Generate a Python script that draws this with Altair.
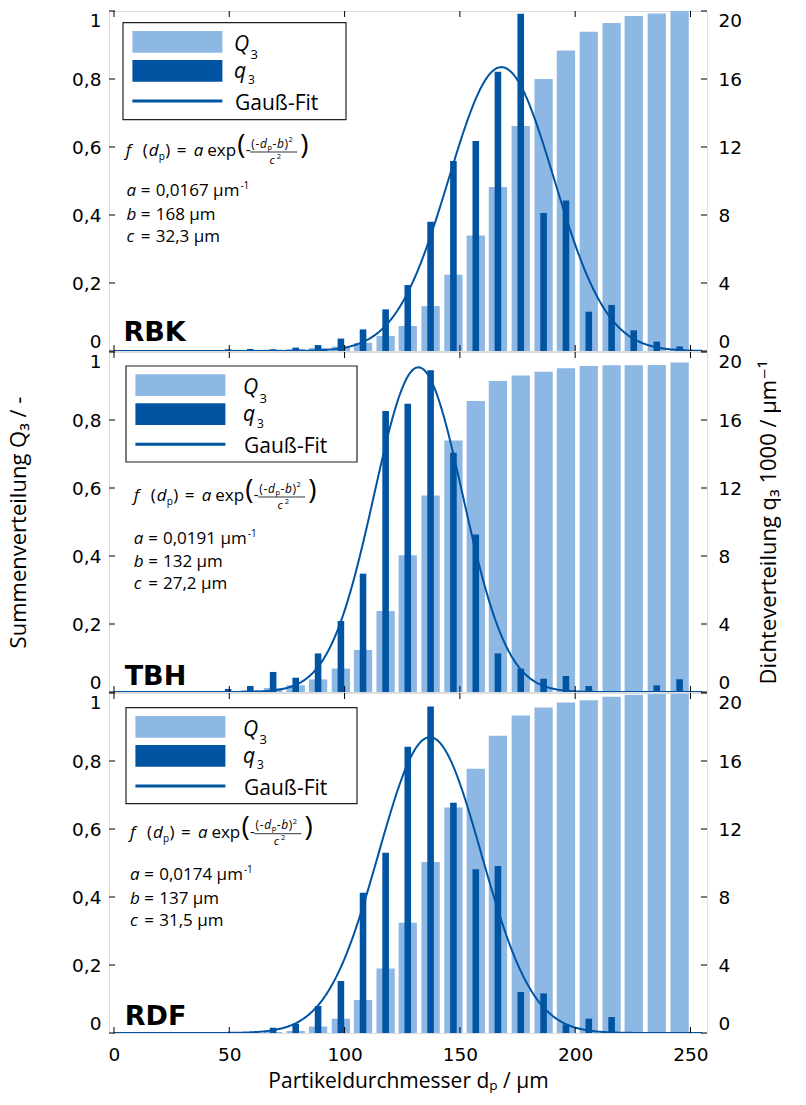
import altair as alt
import pandas as pd

# ---------------- data ----------------
dp = [0.8, 10.6, 20.3, 30.1, 39.9, 49.5, 59.1, 69.0, 78.8, 88.5, 98.4, 108.0,
      117.8, 127.4, 137.3, 147.2, 156.9, 166.5, 176.4, 186.3, 196.0, 205.9,
      215.8, 225.4, 235.4, 245.3]

names = ["RBK", "TBH", "RDF"]

Q3_RBK = [0, 0, 0.0005, 0.001, 0.0015, 0.002, 0.003, 0.004, 0.006, 0.009, 0.013, 0.024,
          0.044, 0.0735, 0.132, 0.224, 0.340, 0.482, 0.662, 0.800, 0.884, 0.939,
          0.965, 0.985, 0.993, 1.0]
q3_RBK = [0, 0, 0.02, 0.03, 0.06, 0.10, 0.12, 0.10, 0.20, 0.35, 0.73, 1.27,
          2.45, 3.88, 7.61, 11.18, 12.35, 16.43, 19.84, 8.12, 8.86, 2.31,
          2.71, 1.22, 0.55, 0.27]
Q3_TBH = [0, 0, 0, 0, 0, 0.002, 0.005, 0.012, 0.020, 0.037, 0.069, 0.1235,
          0.238, 0.402, 0.578, 0.740, 0.856, 0.915, 0.931, 0.942, 0.952, 0.959,
          0.961, 0.961, 0.962, 0.969]
q3_TBH = [0, 0, 0, 0, 0, 0.18, 0.35, 1.18, 0.84, 2.27, 4.18, 6.96,
          16.53, 16.96, 18.92, 14.08, 9.27, 2.27, 1.37, 0.78, 0.94, 0.35,
          0, 0, 0.39, 0.75]
Q3_RDF = [0, 0, 0, 0, 0, 0, 0.001, 0.003, 0.006, 0.019, 0.042, 0.097,
          0.190, 0.324, 0.503, 0.663, 0.777, 0.874, 0.934, 0.957, 0.972, 0.979,
          0.989, 0.995, 0.997, 0.998]
q3_RDF = [0, 0, 0, 0, 0, 0, 0, 0.31, 0.55, 1.59, 3.06, 8.25,
          10.60, 16.84, 19.20, 13.55, 9.63, 9.82, 2.41, 2.33, 0.51, 0.84,
          0.94, 0, 0, 0]

fit_a = [0.0167, 0.0191, 0.0174]   # 1/um
fit_b = [168, 132, 137]            # um
fit_c = [32.3, 27.2, 31.5]         # um
a_text = ["0,0167", "0,0191", "0,0174"]
b_text = ["168", "132", "137"]
c_text = ["32,3", "27,2", "31,5"]

x_ticks = [0, 50, 100, 150, 200, 250]
Q_ticks = [0, 0.2, 0.4, 0.6, 0.8, 1.0]
q_ticks = [0, 4, 8, 12, 16, 20]

Q3_all = [Q3_RBK, Q3_TBH, Q3_RDF]
q3_all = [q3_RBK, q3_TBH, q3_RDF]

# ---------------- style ----------------
W, H = 598, 340
LIGHT = "#8EB8E4"
DARK = "#0054A2"
TFONT = "Open Sans, DejaVu Sans"
LFONT = "DejaVu Sans"
ONE = pd.DataFrame({"k": [1]})

# per-panel annotation layout (pixels inside the plot area)
LAY = [
    dict(box=(14, 11.7, 223, 97), tdx=111, f=(16.7, 145), par=(17.4, [185, 209, 231]), lab=(14.4, 330)),
    dict(box=(17, 14.0, 231, 96), tdx=117, f=(24.7, 149), par=(24.7, [192.3, 214.7, 237.3]), lab=(15.7, 333)),
    dict(box=(17, 14.7, 231, 96), tdx=117, f=(20.9, 144.7), par=(20.9, [187.3, 210.7, 233]), lab=(15.7, 332)),
]


def txt(text, x, y, size, style="normal", weight="normal", align="left", font=TFONT):
    return alt.Chart(ONE).mark_text(
        text=text, fontSize=size, fontStyle=style, fontWeight=weight,
        align=align, baseline="alphabetic", font=font, color="black"
    ).encode(x=alt.value(x), y=alt.value(y))


def rect(x0, y0, x1, y1, fill, stroke=None, sw=0):
    kw = dict(fill=fill)
    if stroke:
        kw.update(stroke=stroke, strokeWidth=sw)
    return alt.Chart(ONE).mark_rect(**kw).encode(
        x=alt.value(x0), x2=alt.value(x1), y=alt.value(y0), y2=alt.value(y1))


def hline(x0, x1, y, color, sw):
    return alt.Chart(ONE).mark_rule(color=color, strokeWidth=sw).encode(
        x=alt.value(x0), x2=alt.value(x1), y=alt.value(y))


def annotations(i):
    L = LAY[i]
    out = []
    bx, by, bw, bh = L["box"]
    out.append(rect(bx, by, bx + bw, by + bh, "white", "#222222", 1.2))
    out.append(rect(bx + 9.4, by + 8.3, bx + 99.4, by + 30, LIGHT))
    out.append(rect(bx + 9.4, by + 37.3, bx + 99.4, by + 59, DARK))
    out.append(hline(bx + 9.4, bx + 99.4, by + 78.3, DARK, 3))
    tx = bx + L["tdx"]
    out.append(txt("Q", tx, by + 28.3, 21, "italic"))
    out.append(txt("3", tx + 16.5, by + 36.5, 13))
    out.append(txt("q", tx, by + 55, 21, "italic"))
    out.append(txt("3", tx + 14, by + 61.5, 12))
    out.append(txt("Gauß-Fit", tx + 1, by + 87, 21))

    fx, fy = L["f"]
    pieces = [
        ("f", 0, 0, 17, "italic", "left"),
        ("(", 17, 0, 17, "normal", "left"),
        ("d", 23, 0, 17, "italic", "left"),
        ("p", 33, 4, 10, "normal", "left"),
        (")", 39.5, 0, 17, "normal", "left"),
        ("=", 56, 0, 17, "normal", "center"),
        ("a", 68, 0, 17, "italic", "left"),
        ("exp", 81.5, 0, 17, "normal", "left"),
        ("(", 111.5, -2, 28, "normal", "left"),
        ("-", 120, -1, 15, "normal", "left"),
        ("(", 125.5, -8.5, 12, "normal", "left"),
        ("-", 129.8, -8.5, 12, "normal", "left"),
        ("d", 134.3, -8.5, 12, "italic", "left"),
        ("p", 141.8, -6.5, 7.5, "normal", "left"),
        ("-", 146.8, -8.5, 12, "normal", "left"),
        ("b", 151.3, -8.5, 12, "italic", "left"),
        (")", 158.8, -8.5, 12, "normal", "left"),
        ("2", 162.8, -14, 7.5, "normal", "left"),
        ("c", 146.5, 7.5, 11.5, "italic", "center"),
        ("2", 151, 2.5, 7.5, "normal", "left"),
        (")", 174.5, -2, 28, "normal", "left"),
    ]
    for t, dx, dy, s, st, al in pieces:
        out.append(txt(t, fx + dx, fy + dy, s, st, align=al))
    out.append(hline(fx + 124.5, fx + 171.5, fy - 4, "black", 0.8))

    px, pys = L["par"]
    for letter, val, py in zip(["a", "b", "c"], [a_text[i], b_text[i], c_text[i]], pys):
        out.append(txt(letter, px, py, 17, "italic"))
        out.append(txt("=", px + 19.3, py, 17, align="center"))
        out.append(txt(val + " µm", px + 29.3, py, 17))
    out.append(txt("-1", px + 114, pys[0] - 7, 10))

    lx, ly = L["lab"]
    out.append(txt(names[i], lx, ly, 27, weight="bold", font="DejaVu Sans"))
    return out


def panel(i):
    df = pd.DataFrame({"dp": dp, "Q3": Q3_all[i], "q3": q3_all[i]})
    bottom = i == 2
    middle = i == 1

    if bottom:
        xaxis = alt.Axis(values=x_ticks, ticks=False, domain=False, grid=False,
                         labelFont=LFONT, labelFontSize=18.5, labelColor="black",
                         labelPadding=12, title="Partikeldurchmesser dₚ / µm",
                         titleFont=TFONT, titleFontSize=21, titleFontWeight="normal",
                         titleColor="black", titlePadding=7)
        X = alt.X("dp:Q", scale=alt.Scale(domain=[0, 255], nice=False, zero=False), axis=xaxis)
    else:
        X = alt.X("dp:Q", scale=alt.Scale(domain=[0, 255], nice=False, zero=False), axis=None)

    lab_expr = ("datum.value == 0 ? '0' : (datum.value == 1 ? '1' : "
                "replace(format(datum.value, '.1f'), '.', ','))")
    qa = dict(orient="left", values=Q_ticks, ticks=False, domain=False, grid=False,
              labelFlush=True, labelExpr=lab_expr, labelFont=LFONT, labelFontSize=18.5,
              labelColor="black", labelPadding=8)
    if middle:
        qa.update(title="Summenverteilung Q₃ / -", titleFont=TFONT, titleFontSize=22,
                  titleFontWeight="normal", titleColor="black", titlePadding=41.5)
    else:
        qa.update(title=None)
    YQ = alt.Y("Q3:Q", scale=alt.Scale(domain=[0, 1], nice=False), axis=alt.Axis(**qa))

    ra = dict(orient="right", values=q_ticks, ticks=False, domain=False, grid=False,
              labelFlush=True, labelFont=LFONT, labelFontSize=18.5, labelColor="black",
              labelPadding=11)
    if middle:
        ra.update(title="Dichteverteilung q₃ 1000 / µm⁻¹", titleFont=TFONT, titleFontSize=22,
                  titleFontWeight="normal", titleColor="black", titlePadding=39,
                  titleAngle=270)
    else:
        ra.update(title=None)
    Yq = alt.Y("q3:Q", scale=alt.Scale(domain=[0, 20], nice=False), axis=alt.Axis(**ra))

    light = alt.Chart(df).mark_bar(color=LIGHT, size=18.3).encode(x=X, y=YQ)
    lticks = alt.Chart(pd.DataFrame({"Q3": Q_ticks})).mark_rule(color="black", strokeWidth=1).encode(
        y=YQ, x=alt.value(0), x2=alt.value(6))
    left = alt.layer(light, lticks)

    dark = alt.Chart(df).mark_bar(color=DARK, size=6.6).encode(x=X, y=Yq)
    a, b, c = fit_a[i] * 1000, fit_b[i], fit_c[i]
    gauss = alt.Chart(alt.sequence(0, 255.01, 0.5, as_="dp")).transform_calculate(
        q3=f"{a}*exp(-pow(datum.dp-{b},2)/pow({c},2))"
    ).mark_line(color=DARK, strokeWidth=2, clip=True).encode(x=X, y=Yq)
    rticks = alt.Chart(pd.DataFrame({"q3": q_ticks})).mark_rule(color="black", strokeWidth=1).encode(
        y=Yq, x=alt.value(W - 6), x2=alt.value(W))
    xt = pd.DataFrame({"dp": x_ticks})
    tticks = alt.Chart(xt).mark_rule(color="black", strokeWidth=1).encode(
        x=X, y=alt.value(0), y2=alt.value(6))
    bticks = alt.Chart(xt).mark_rule(color="black", strokeWidth=1).encode(
        x=X, y=alt.value(H - 6), y2=alt.value(H))
    right = alt.layer(dark, gauss, rticks, tticks, bticks, *annotations(i))

    return alt.layer(left, right).resolve_scale(y="independent").properties(width=W, height=H)


chart = alt.vconcat(panel(0), panel(1), panel(2), spacing=1, bounds="flush").properties(
    padding={"left": 6, "top": 10, "right": 0, "bottom": 5}
).configure_view(stroke="black", strokeWidth=1.3).configure(background="white")

chart.save("out.html", embed_options={"renderer": "svg", "actions": False})
